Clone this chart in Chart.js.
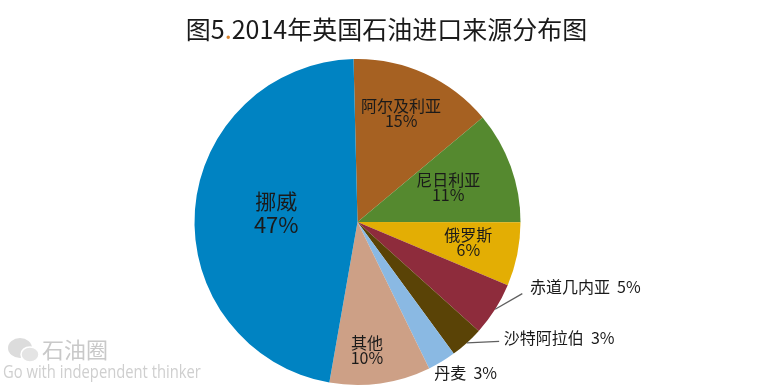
<!DOCTYPE html>
<html>
<head>
<meta charset="utf-8">
<title>图5.2014年英国石油进口来源分布图</title>
<style>
    html, body { margin: 0; padding: 0; background: #fff; }
    #wrap { position: relative; width: 775px; height: 388px; }
</style>
</head>
<body>
<div id="wrap"><canvas id="pieChart"></canvas></div>
<script src="https://cdn.jsdelivr.net/npm/chart.js@4"></script>
<script>
const CJK = '"Noto Sans CJK SC", "Noto Sans", sans-serif';

const countries = ['阿尔及利亚', '尼日利亚', '俄罗斯', '赤道几内亚', '沙特阿拉伯', '丹麦', '其他', '挪威'];
const shares = [14.3, 11.1, 6.3, 5.3, 3.3, 2.8, 10.0, 46.8];
const shareLabels = ['15%', '11%', '6%', '5%', '3%', '3%', '10%', '47%'];
const sliceColors = ['#A66122', '#55892F', '#E3AE04', '#8E2C3C', '#5A4306', '#8AB9E3', '#CDA086', '#0083C2'];

// title pieces, the dot is orange in the original
const titleParts = ['图5', '.', '2014年英国石油进口来源分布图'];
const titleColors = ['#1a1a1a', '#D9822B', '#1a1a1a'];

// label offset from each slice's middle, in pixels
const labelShift = [[10, -35], [14, -7], [31, 4], [159, 21], [147, 55], [66, 81], [-2, 47], [0, -3]];
// slices whose label sits outside: one line of text, some with a leader line
const oneLine = [3, 4, 5];
const leaderEnd = { 3: [-63, 7], 4: [-60, 4] };

const chartTitle = {
    id: 'chartTitle',
    afterDraw(chart) {
        const ctx = chart.ctx;
        ctx.save();
        ctx.font = '25px ' + CJK;
        ctx.textBaseline = 'middle';
        ctx.textAlign = 'left';
        const total = titleParts.reduce((sum, part) => sum + ctx.measureText(part).width, 0);
        let x = 386.5 - total / 2;
        titleParts.forEach((part, i) => {
            ctx.fillStyle = titleColors[i];
            ctx.fillText(part, x, 29);
            x += ctx.measureText(part).width;
        });
        ctx.restore();
    }
};

const sliceLabels = {
    id: 'sliceLabels',
    afterDatasetsDraw(chart) {
        const ctx = chart.ctx;
        const arcs = chart.getDatasetMeta(0).data;
        ctx.save();
        ctx.textAlign = 'center';
        ctx.textBaseline = 'middle';
        ctx.fillStyle = '#1a1a1a';
        arcs.forEach((arc, i) => {
            const pos = arc.tooltipPosition();
            const x = pos.x + labelShift[i][0];
            const y = pos.y + labelShift[i][1];

            if (leaderEnd[i]) {
                const mid = (arc.startAngle + arc.endAngle) / 2;
                ctx.beginPath();
                ctx.moveTo(arc.x + Math.cos(mid) * arc.outerRadius, arc.y + Math.sin(mid) * arc.outerRadius);
                ctx.lineTo(x + leaderEnd[i][0], y + leaderEnd[i][1]);
                ctx.strokeStyle = '#5f5f5f';
                ctx.lineWidth = 1.3;
                ctx.stroke();
            }

            if (oneLine.includes(i)) {
                ctx.font = '16px ' + CJK;
                ctx.fillText(countries[i] + '  ' + shareLabels[i], x, y);
            } else if (i === 7) {
                ctx.font = '21px ' + CJK;
                ctx.fillText(countries[i], x, y - 12);
                ctx.font = '22px ' + CJK;
                ctx.fillText(shareLabels[i], x, y + 12);
            } else {
                ctx.font = '16px ' + CJK;
                ctx.fillText(countries[i], x, y - 7);
                ctx.fillText(shareLabels[i], x, y + 8);
            }
        });
        ctx.restore();
    }
};

// grey logo in the bottom left corner
const watermark = {
    id: 'watermark',
    afterDraw(chart) {
        const ctx = chart.ctx;
        ctx.save();
        ctx.fillStyle = '#dcdcdc';
        ctx.beginPath();
        ctx.ellipse(20, 348, 12, 10, 0, 0, Math.PI * 2);
        ctx.fill();
        ctx.fillStyle = '#e4e4e4';
        ctx.strokeStyle = '#fff';
        ctx.lineWidth = 1.5;
        ctx.beginPath();
        ctx.ellipse(30, 354.5, 9, 7.5, 0, 0, Math.PI * 2);
        ctx.fill();
        ctx.stroke();
        ctx.textBaseline = 'middle';
        ctx.textAlign = 'left';
        ctx.fillStyle = '#c9c9c9';
        ctx.font = '22px ' + CJK;
        ctx.fillText('石油圈', 42, 350);
        ctx.fillStyle = '#cfcfcf';
        ctx.font = '18px "Open Sans", sans-serif';
        ctx.translate(3, 373);
        ctx.scale(0.82, 1); // the logo lettering is narrow
        ctx.fillText('Go with independent thinker', 0, 0);
        ctx.restore();
    }
};

new Chart(document.getElementById('pieChart'), {
    type: 'pie',
    data: {
        labels: countries,
        datasets: [{
            data: shares,
            backgroundColor: sliceColors,
            borderWidth: 0
        }]
    },
    options: {
        responsive: true,
        maintainAspectRatio: false,
        animation: false,
        rotation: -1.4,
        layout: { padding: { top: 59, bottom: 3, left: 0, right: 60 } },
        plugins: {
            legend: { display: false },
            tooltip: { enabled: false }
        }
    },
    plugins: [chartTitle, sliceLabels, watermark]
});
</script>
</body>
</html>
